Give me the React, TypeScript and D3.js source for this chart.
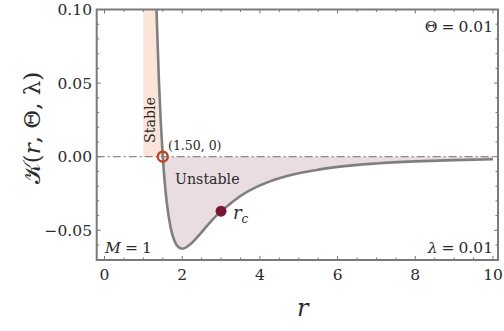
import React from "react";
import * as d3 from "d3";

// Curve samples K(r, Θ, λ)
const rValues = [1.0, 1.1, 1.2, 1.25, 1.3, 1.32, 1.35, 1.4, 1.45, 1.5, 1.55, 1.6, 1.7, 1.8, 1.9, 2.0, 2.1, 2.2, 2.4, 2.6, 2.8, 3.0, 3.25, 3.5, 4.0, 4.5, 5.0, 5.5, 6.0, 7.0, 8.0, 9.0, 10.0];
const kValues = [1.0, 0.546, 0.289, 0.205, 0.1401, 0.1185, 0.0903, 0.052, 0.0227, 0.0, -0.0173, -0.0305, -0.0479, -0.0571, -0.0614, -0.0625, -0.0616, -0.0597, -0.0543, -0.0482, -0.0423, -0.037, -0.0317, -0.0267, -0.0195, -0.0146, -0.0112, -0.0088, -0.0069, -0.0046, -0.0032, -0.0023, -0.0017];

const xTicks = [0, 2, 4, 6, 8, 10];
const yTicks = [-0.05, 0.0, 0.05, 0.1];
const yTickLabels = ["\u22120.05", "0.00", "0.05", "0.10"];

const stableRange = [1.0, 1.5];
const zeroPoint = { r: 1.5, k: 0, label: "(1.50, 0)" };
const criticalPoint = { r: 3.0, k: -0.037 };

const W = 504;
const H = 331;
const frame = { left: 96.7, right: 498, top: 9.5, bottom: 260 };

const FONT = "'DejaVu Serif', serif";
const TS: React.CSSProperties = { fontFamily: FONT };

export default function App() {
  const x = d3.scaleLinear().domain([0, 10]).range([104.5, 493]);
  const y = d3.scaleLinear().domain([0, 0.1]).range([156.7, 9.5]);

  const data = rValues.map((r, i) => ({ r, k: kValues[i] }));

  const line = d3
    .line<{ r: number; k: number }>()
    .x((d) => x(d.r))
    .y((d) => y(d.k))
    .curve(d3.curveMonotoneX);

  const area = d3
    .area<{ r: number; k: number }>()
    .x((d) => x(d.r))
    .y0(y(0))
    .y1((d) => y(d.k))
    .curve(d3.curveMonotoneX);

  const stableData = data.filter((d) => d.r >= stableRange[0] && d.r <= stableRange[1]);
  const unstableData = data.filter((d) => d.r >= stableRange[1]);

  const xMinor = d3.range(0, 10.01, 0.5);
  const yMinor = d3.range(-0.06, 0.101, 0.01).map((v) => Math.round(v * 1000) / 1000);

  const tickColor = "#777";
  const txt = "#2a2a2a";

  return (
    <svg
      width={W}
      height={H}
      style={{ position: "absolute", left: 0, top: 0, background: "#fff", fontFamily: FONT }}
    >
      <defs>
        <clipPath id="plotClip">
          <rect x={frame.left} y={frame.top} width={frame.right - frame.left} height={frame.bottom - frame.top} />
        </clipPath>
      </defs>

      <g clipPath="url(#plotClip)">
        <path d={area(stableData) || ""} fill="#fbe5d9" stroke="none" />
        <path d={area(unstableData) || ""} fill="#eadde2" stroke="none" />
        <line
          x1={frame.left}
          x2={frame.right}
          y1={y(0)}
          y2={y(0)}
          stroke="#8a8a8a"
          strokeWidth={1.3}
          strokeDasharray="8,3,2,3"
        />
        <path d={line(data) || ""} fill="none" stroke="#7f7f7f" strokeWidth={2.6} />
      </g>

      {xMinor.map((v) => (
        <g key={"xm" + v}>
          <line x1={x(v)} x2={x(v)} y1={frame.bottom} y2={frame.bottom - (v % 2 === 0 ? 4 : 2.5)} stroke={tickColor} strokeWidth={1} />
          <line x1={x(v)} x2={x(v)} y1={frame.top} y2={frame.top + (v % 2 === 0 ? 4 : 2.5)} stroke={tickColor} strokeWidth={1} />
        </g>
      ))}
      {yMinor.map((v) => {
        const major = Math.abs(Math.round(v * 100) % 5) === 0;
        return (
          <g key={"ym" + v}>
            <line x1={frame.left} x2={frame.left + (major ? 4 : 2.5)} y1={y(v)} y2={y(v)} stroke={tickColor} strokeWidth={1} />
            <line x1={frame.right} x2={frame.right - (major ? 4 : 2.5)} y1={y(v)} y2={y(v)} stroke={tickColor} strokeWidth={1} />
          </g>
        );
      })}

      <rect
        x={frame.left}
        y={frame.top}
        width={frame.right - frame.left}
        height={frame.bottom - frame.top}
        fill="none"
        stroke="#7a7a7a"
        strokeWidth={2}
      />

      {xTicks.map((v) => (
        <text key={"xt" + v} x={x(v)} y={280} textAnchor="middle" fontSize={15.5} fill={txt} style={TS}>
          {v}
        </text>
      ))}
      {yTicks.map((v, i) => (
        <text key={"yt" + v} x={92} y={y(v)} dy="0.36em" textAnchor="end" fontSize={15.5} fill={txt} style={TS}>
          {yTickLabels[i]}
        </text>
      ))}

      <circle cx={x(zeroPoint.r)} cy={y(zeroPoint.k)} r={5} fill="none" stroke="#c2421d" strokeWidth={2.4} />
      <circle cx={x(criticalPoint.r)} cy={y(criticalPoint.k)} r={5.5} fill="#7a1735" />

      <text x={168} y={150} fontSize={12.5} fill={txt} style={TS}>{zeroPoint.label}</text>
      <text x={175} y={184} fontSize={14.2} fill={txt} style={TS}>Unstable</text>
      <text transform={`translate(155,120) rotate(-90)`} textAnchor="middle" fontSize={14.2} fill={txt} style={TS}>Stable</text>
      <text x={233} y={219} fontSize={18} fill={txt} fontStyle="italic" style={TS}>
        r<tspan fontSize={12} dy={4}>c</tspan>
      </text>
      <text x={105} y={253} fontSize={15.5} fill={txt} style={TS}>
        <tspan fontStyle="italic">M</tspan>
        <tspan dx={4}>=</tspan>
        <tspan dx={4}>1</tspan>
      </text>
      <text x={493} y={32} textAnchor="end" fontSize={15.5} fill={txt} style={TS}>
        <tspan>Θ</tspan>
        <tspan dx={4}>=</tspan>
        <tspan dx={4}>0.01</tspan>
      </text>
      <text x={493} y={253} textAnchor="end" fontSize={15.5} fill={txt} style={TS}>
        <tspan fontStyle="italic">λ</tspan>
        <tspan dx={4}>=</tspan>
        <tspan dx={4}>0.01</tspan>
      </text>

      <text x={297} y={316} fontSize={24} fontStyle="italic" fill={txt} style={TS}>r</text>
      <text transform={`translate(40,128) rotate(-90)`} textAnchor="middle" fontSize={23} fill={txt} style={TS}>
        𝒦(<tspan fontStyle="italic">r</tspan>, Θ, λ)
      </text>
    </svg>
  );
}
